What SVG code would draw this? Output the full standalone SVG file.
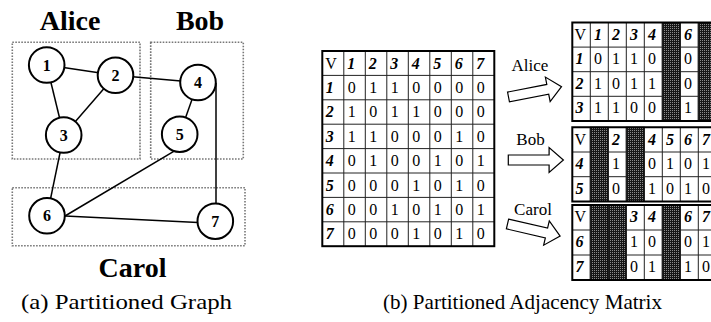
<svg xmlns="http://www.w3.org/2000/svg" width="711" height="322" viewBox="0 0 711 322">
<style>
.bg{fill:#fff}
.part{fill:none;stroke:#777;stroke-width:1.6;stroke-dasharray:1.6 1.4}
text{font-family:'Liberation Serif','Times New Roman','DejaVu Serif',serif}
.big{font-weight:bold;font-size:28px;text-anchor:middle;fill:#000}
.node circle{fill:#fff;stroke:#000;stroke-width:2}
.node text{font-weight:bold;font-size:16px;text-anchor:middle;fill:#000}
.edge{stroke:#000;stroke-width:1.5;fill:none}
.cap{font-size:21px;fill:#000}
.lbl{font-size:17px;text-anchor:middle;fill:#000}
.arrow{fill:#fff;stroke:#000;stroke-width:1.2;stroke-linejoin:miter}
.outer{fill:none;stroke:#000;stroke-width:2}
.grid{fill:none;stroke:#222;stroke-width:1}
.cell{font-size:16px;fill:#000}
.hd{font-size:16px;font-weight:bold;font-style:italic;fill:#000}
.shade{fill:url(#mesh);stroke:#000;stroke-width:1}
</style>
<defs>
<pattern id="mesh" width="2" height="2" patternUnits="userSpaceOnUse">
<rect width="2" height="2" fill="#161616"/>
<rect width="1" height="1" fill="#8a8a8a"/>
</pattern>
<path id="blk" d="M0,-5 L40,-5 L40,-12.5 L54,0 L40,12.5 L40,5 L0,5 Z"/>
</defs>
<rect class="bg" width="711" height="322"/>

<g id="partitions">
<rect class="part" x="12.3" y="42.3" width="127.7" height="116.7"/>
<rect class="part" x="150.7" y="42.3" width="92.6" height="116.7"/>
<rect class="part" x="12.3" y="187.7" width="232.7" height="58"/>
<text class="big" x="70" y="30" font-family="Liberation Serif, serif">Alice</text>
<text class="big" x="200" y="30" font-family="Liberation Serif, serif">Bob</text>
<text class="big" x="132.5" y="277" font-family="Liberation Serif, serif">Carol</text>
</g>

<g id="connectors">
<line class="edge" x1="46.7" y1="65" x2="115.5" y2="75.3"/>
<line class="edge" x1="46.7" y1="65" x2="63.7" y2="135"/>
<line class="edge" x1="115.5" y1="75.3" x2="63.7" y2="135"/>
<line class="edge" x1="115.5" y1="75.3" x2="198" y2="82.5"/>
<line class="edge" x1="63.7" y1="135" x2="47" y2="215.8"/>
<line class="edge" x1="198" y1="82.5" x2="179.7" y2="134.2"/>
<line class="edge" x1="216" y1="83" x2="216" y2="204"/>
<line class="edge" x1="175" y1="150.7" x2="65" y2="216"/>
<line class="edge" x1="65" y1="216" x2="198" y2="222.5"/>
</g>

<g id="n1" class="node"><circle cx="46.7" cy="65" r="17.8"/><text x="46.7" y="70.5">1</text></g>
<g id="n2" class="node"><circle cx="115.5" cy="75.3" r="17.8"/><text x="115.5" y="80.8">2</text></g>
<g id="n3" class="node"><circle cx="63.7" cy="135" r="17.8"/><text x="63.7" y="140.5">3</text></g>
<g id="n4" class="node"><circle cx="198" cy="82.5" r="17.8"/><text x="198" y="88">4</text></g>
<g id="n5" class="node"><circle cx="179.7" cy="134.2" r="17.8"/><text x="179.7" y="139.7">5</text></g>
<g id="n6" class="node"><circle cx="47" cy="215.8" r="17.8"/><text x="47" y="221.3">6</text></g>
<g id="n7" class="node"><circle cx="215.3" cy="221.2" r="17.8"/><text x="215.3" y="226.7">7</text></g>

<text class="cap" x="21" y="309" textLength="211" lengthAdjust="spacingAndGlyphs">(a)  Partitioned Graph</text>

<g id="matrix">
<path class="grid" d="M343.8,51V246.2M365.3,51V246.2M386.8,51V246.2M408.3,51V246.2M429.8,51V246.2M451.3,51V246.2M472.8,51V246.2M322.3,75.4H494.3M322.3,99.8H494.3M322.3,124.2H494.3M322.3,148.6H494.3M322.3,173H494.3M322.3,197.4H494.3M322.3,221.8H494.3"/>
<rect class="outer" x="322.3" y="51" width="172" height="195.2"/>
<text class="cell" x="325.3" y="68.5">V</text>
<text class="hd" x="347.3" y="68.5">1</text><text class="hd" x="368.8" y="68.5">2</text><text class="hd" x="390.3" y="68.5">3</text><text class="hd" x="411.8" y="68.5">4</text><text class="hd" x="433.3" y="68.5">5</text><text class="hd" x="454.8" y="68.5">6</text><text class="hd" x="476.3" y="68.5">7</text>
<text class="hd" x="325.8" y="92.9">1</text><text class="hd" x="325.8" y="117.3">2</text><text class="hd" x="325.8" y="141.7">3</text><text class="hd" x="325.8" y="166.1">4</text><text class="hd" x="325.8" y="190.5">5</text><text class="hd" x="325.8" y="214.9">6</text><text class="hd" x="325.8" y="239.3">7</text>
<g class="cell">
<text y="92.9"><tspan x="347.8">0</tspan><tspan x="369.3">1</tspan><tspan x="390.8">1</tspan><tspan x="412.3">0</tspan><tspan x="433.8">0</tspan><tspan x="455.3">0</tspan><tspan x="476.8">0</tspan></text>
<text y="117.3"><tspan x="347.8">1</tspan><tspan x="369.3">0</tspan><tspan x="390.8">1</tspan><tspan x="412.3">1</tspan><tspan x="433.8">0</tspan><tspan x="455.3">0</tspan><tspan x="476.8">0</tspan></text>
<text y="141.7"><tspan x="347.8">1</tspan><tspan x="369.3">1</tspan><tspan x="390.8">0</tspan><tspan x="412.3">0</tspan><tspan x="433.8">0</tspan><tspan x="455.3">1</tspan><tspan x="476.8">0</tspan></text>
<text y="166.1"><tspan x="347.8">0</tspan><tspan x="369.3">1</tspan><tspan x="390.8">0</tspan><tspan x="412.3">0</tspan><tspan x="433.8">1</tspan><tspan x="455.3">0</tspan><tspan x="476.8">1</tspan></text>
<text y="190.5"><tspan x="347.8">0</tspan><tspan x="369.3">0</tspan><tspan x="390.8">0</tspan><tspan x="412.3">1</tspan><tspan x="433.8">0</tspan><tspan x="455.3">1</tspan><tspan x="476.8">0</tspan></text>
<text y="214.9"><tspan x="347.8">0</tspan><tspan x="369.3">0</tspan><tspan x="390.8">1</tspan><tspan x="412.3">0</tspan><tspan x="433.8">1</tspan><tspan x="455.3">0</tspan><tspan x="476.8">1</tspan></text>
<text y="239.3"><tspan x="347.8">0</tspan><tspan x="369.3">0</tspan><tspan x="390.8">0</tspan><tspan x="412.3">1</tspan><tspan x="433.8">0</tspan><tspan x="455.3">1</tspan><tspan x="476.8">0</tspan></text>
</g>
</g>

<g id="arrows">
<text class="lbl" x="530" y="71">Alice</text>
<use href="#blk" class="arrow" transform="translate(508.5,97) rotate(-11)"/>
<text class="lbl" x="530.5" y="145">Bob</text>
<use href="#blk" class="arrow" transform="translate(508.3,160) scale(1.02,1)"/>
<text class="lbl" x="533" y="215">Carol</text>
<use href="#blk" class="arrow" transform="translate(507.5,224) rotate(13)"/>
</g>

<g id="alice-matrix">
<rect class="shade" x="662.3" y="22.5" width="18" height="98.4"/>
<rect class="shade" x="698.3" y="22.5" width="18" height="98.4"/>
<path class="grid" d="M590.3,22.5V120.9M608.3,22.5V120.9M626.3,22.5V120.9M644.3,22.5V120.9M662.3,22.5V120.9M680.3,22.5V120.9M698.3,22.5V120.9M572.3,47.1H662.3M680.3,47.1H698.3M572.3,71.7H662.3M680.3,71.7H698.3M572.3,96.3H662.3M680.3,96.3H698.3"/>
<path class="outer" d="M716,22.5H572.3V120.9H716"/>
<text class="cell" x="574.5" y="39.5">V</text>
<text class="hd" x="594" y="39.5">1</text><text class="hd" x="612" y="39.5">2</text><text class="hd" x="630" y="39.5">3</text><text class="hd" x="648" y="39.5">4</text><text class="hd" x="684" y="39.5">6</text>
<text class="hd" x="575.5" y="64.1">1</text><text class="hd" x="575.5" y="88.7">2</text><text class="hd" x="575.5" y="113.3">3</text>
<g class="cell">
<text y="64.1"><tspan x="594">0</tspan><tspan x="612">1</tspan><tspan x="630">1</tspan><tspan x="648">0</tspan><tspan x="684">0</tspan></text>
<text y="88.7"><tspan x="594">1</tspan><tspan x="612">0</tspan><tspan x="630">1</tspan><tspan x="648">1</tspan><tspan x="684">0</tspan></text>
<text y="113.3"><tspan x="594">1</tspan><tspan x="612">1</tspan><tspan x="630">0</tspan><tspan x="648">0</tspan><tspan x="684">1</tspan></text>
</g>
</g>

<g id="bob-matrix">
<rect class="shade" x="590.3" y="127.3" width="18" height="74.1"/>
<rect class="shade" x="626.3" y="127.3" width="18" height="74.1"/>
<path class="grid" d="M590.3,127.3V201.4M608.3,127.3V201.4M626.3,127.3V201.4M644.3,127.3V201.4M662.3,127.3V201.4M680.3,127.3V201.4M698.3,127.3V201.4M572.3,152H590.3M608.3,152H626.3M644.3,152H716M572.3,176.7H590.3M608.3,176.7H626.3M644.3,176.7H716"/>
<path class="outer" d="M716,127.3H572.3V201.4H716"/>
<text class="cell" x="574.5" y="144.5">V</text>
<text class="hd" x="612" y="144.5">2</text><text class="hd" x="648" y="144.5">4</text><text class="hd" x="666" y="144.5">5</text><text class="hd" x="684" y="144.5">6</text><text class="hd" x="702" y="144.5">7</text>
<text class="hd" x="575.5" y="169.2">4</text><text class="hd" x="575.5" y="193.9">5</text>
<g class="cell">
<text y="169.2"><tspan x="612">1</tspan><tspan x="648">0</tspan><tspan x="666">1</tspan><tspan x="684">0</tspan><tspan x="702">1</tspan></text>
<text y="193.9"><tspan x="612">0</tspan><tspan x="648">1</tspan><tspan x="666">0</tspan><tspan x="684">1</tspan><tspan x="702">0</tspan></text>
</g>
</g>

<g id="carol-matrix">
<rect class="shade" x="590.3" y="205" width="18" height="75"/>
<rect class="shade" x="608.3" y="205" width="18" height="75"/>
<rect class="shade" x="662.3" y="205" width="18" height="75"/>
<path class="grid" d="M590.3,205V280M608.3,205V280M626.3,205V280M644.3,205V280M662.3,205V280M680.3,205V280M698.3,205V280M572.3,230H590.3M626.3,230H662.3M680.3,230H716M572.3,255H590.3M626.3,255H662.3M680.3,255H716"/>
<path class="outer" d="M716,205H572.3V280H716"/>
<text class="cell" x="574.5" y="222.3">V</text>
<text class="hd" x="630" y="222.3">3</text><text class="hd" x="648" y="222.3">4</text><text class="hd" x="684" y="222.3">6</text><text class="hd" x="702" y="222.3">7</text>
<text class="hd" x="575.5" y="247.3">6</text><text class="hd" x="575.5" y="272.3">7</text>
<g class="cell">
<text y="247.3"><tspan x="630">1</tspan><tspan x="648">0</tspan><tspan x="684">0</tspan><tspan x="702">1</tspan></text>
<text y="272.3"><tspan x="630">0</tspan><tspan x="648">1</tspan><tspan x="684">1</tspan><tspan x="702">0</tspan></text>
</g>
</g>

<text class="cap" x="383" y="309" textLength="279" lengthAdjust="spacingAndGlyphs">(b)  Partitioned Adjacency Matrix</text>
</svg>
